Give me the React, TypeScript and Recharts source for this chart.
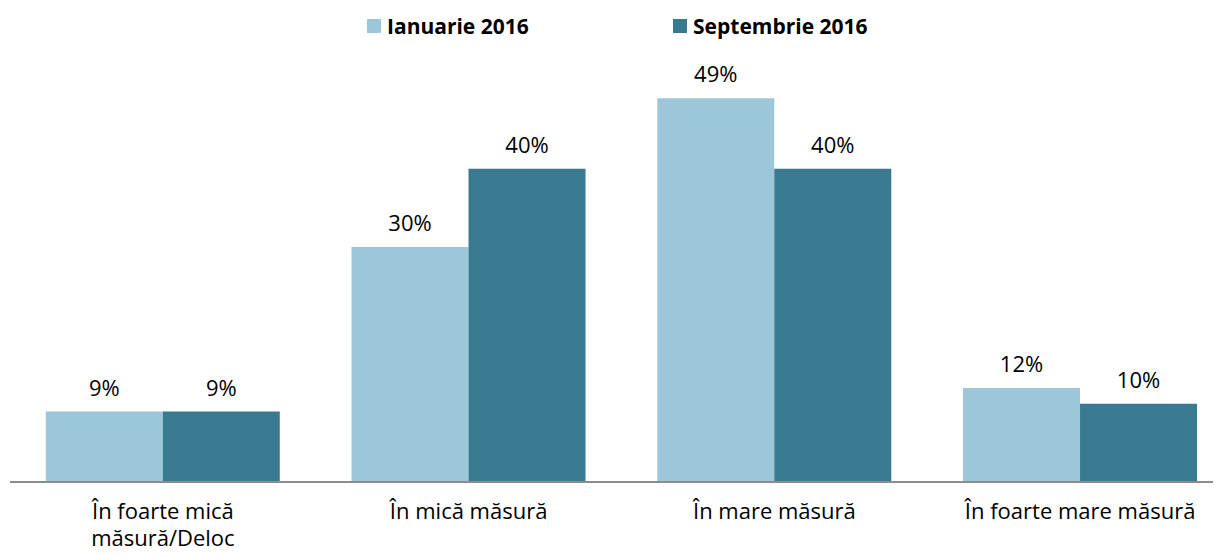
import React from 'react';
import { BarChart, Bar, XAxis, YAxis, LabelList } from 'recharts';

const categories = [
  'În foarte mică\nmăsură/Deloc',
  'În mică măsură',
  'În mare măsură',
  'În foarte mare măsură',
];
const ianuarie2016 = [9, 30, 49, 12];
const septembrie2016 = [9, 40, 40, 10];

const LIGHT = '#9BC7D8';
const DARK = '#3A7A91';
const FONT = '"Open Sans", Lato, sans-serif';

const data = categories.map((name, i) => ({
  name,
  ian: ianuarie2016[i],
  sep: septembrie2016[i],
}));

const CategoryTick = (props: any) => {
  const { x, y, payload } = props;
  const lines = String(payload.value).split('\n');
  return (
    <g transform={`translate(${x},${y})`}>
      {lines.map((line: string, i: number) => (
        <text
          key={i}
          x={0}
          y={i * 27}
          dy={29}
          textAnchor="middle"
          fill="#000"
          fontSize={22}
          fontFamily={FONT}
        >
          {line}
        </text>
      ))}
    </g>
  );
};

const LegendItem = ({ color, label, left }: { color: string; label: string; left: number }) => (
  <div
    style={{
      position: 'absolute',
      left,
      top: 1,
      height: 34,
      display: 'flex',
      alignItems: 'center',
      fontFamily: FONT,
      fontWeight: 700,
      fontSize: 21,
      color: '#000',
    }}
  >
    <span style={{ width: 14, height: 14, background: color, marginRight: 6, display: 'inline-block' }} />
    {label}
  </div>
);

export default function App() {
  return (
    <div style={{ width: 1213, height: 550, overflow: 'hidden', position: 'relative' }}>
      <LegendItem color={LIGHT} label="Ianuarie 2016" left={359} />
      <LegendItem color={DARK} label="Septembrie 2016" left={665} />
      <BarChart
        width={1225}
        height={548}
        data={data}
        margin={{ top: 4, right: 0, bottom: 0, left: 2 }}
        barCategoryGap="11.7%"
        barGap={0}
      >
        <XAxis
          dataKey="name"
          axisLine={{ stroke: '#8C8C8C', strokeWidth: 2 }}
          tickLine={false}
          tick={<CategoryTick />}
          interval={0}
          height={74}
        />
        <YAxis hide domain={[0, 60]} />
        <Bar dataKey="ian" fill={LIGHT} isAnimationActive={false}>
          <LabelList
            dataKey="ian"
            position="top"
            offset={16}
            formatter={(v: any) => `${v}%`}
            style={{ fontFamily: FONT, fontSize: 22, fill: '#000' }}
          />
        </Bar>
        <Bar dataKey="sep" fill={DARK} isAnimationActive={false}>
          <LabelList
            dataKey="sep"
            position="top"
            offset={16}
            formatter={(v: any) => `${v}%`}
            style={{ fontFamily: FONT, fontSize: 22, fill: '#000' }}
          />
        </Bar>
      </BarChart>
    </div>
  );
}
